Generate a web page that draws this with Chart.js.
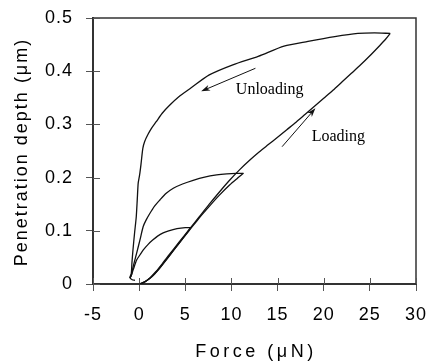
<!DOCTYPE html>
<html lang="en">
<head>
    <meta charset="UTF-8">
    <title>Penetration depth vs force</title>
    <script src="https://cdn.jsdelivr.net/npm/chart.js"></script>
    <style>
        body {
            margin: 0;
            background: #fff;
        }
        #wrap {
            width: 428px;
            height: 364px;
        }
    </style>
</head>
<body>
    <div id="wrap"><canvas id="chart"></canvas></div>

    <script>
        // tick values
        var xTicks = [-5, 0, 5, 10, 15, 20, 25, 30];
        var yTicks = [0, 0.1, 0.2, 0.3, 0.4, 0.5];

        // loading curves (three cycles, same path)
        var load1X = [0.1, 0.7, 1.4, 2.2, 3.2, 4.3, 5.0, 5.6];
        var load1Y = [0, 0.005, 0.014, 0.029, 0.051, 0.076, 0.092, 0.106];

        var load2X = [0.15, 0.8, 1.5, 2.3, 3.3, 4.3, 5.4, 6.5, 7.6, 8.7, 9.8, 10.6, 11.3];
        var load2Y = [0, 0.006, 0.016, 0.032, 0.054, 0.076, 0.100, 0.124, 0.146, 0.167, 0.186, 0.198, 0.208];

        var load3X = [0.05, 0.6, 1.2, 1.8, 2.5, 3.3, 4.3, 5.4, 6.5, 7.6, 8.7, 9.8, 10.9, 12.0, 13.0, 14.0, 15.0,
                      16.0, 17.0, 18.0, 19.0, 20.0, 21.0, 22.0, 23.0, 24.0, 25.0, 26.0, 26.7, 27.2];
        var load3Y = [0, 0.004, 0.012, 0.023, 0.038, 0.056, 0.078, 0.102, 0.126, 0.150, 0.173, 0.195, 0.215, 0.233, 0.248, 0.262, 0.276,
                      0.290, 0.304, 0.319, 0.334, 0.349, 0.364, 0.380, 0.396, 0.412, 0.429, 0.447, 0.460, 0.471];

        // unloading curves
        var unload1X = [5.6, 5.0, 4.1, 3.2, 2.6, 2.0, 1.5, 1.0, 0.45, 0.1, -0.27, -0.64, -0.85, -1.0];
        var unload1Y = [0.106, 0.106, 0.104, 0.100, 0.096, 0.090, 0.083, 0.075, 0.064, 0.055, 0.045, 0.027, 0.016, 0.011];

        var unload2X = [11.3, 10.5, 9.5, 8.4, 7.1, 5.85, 4.7, 3.7, 2.9, 2.25, 1.65, 1.17, 0.75, 0.44, 0.09, -0.27, -0.64, -0.85, -1.0];
        var unload2Y = [0.208, 0.208, 0.207, 0.205, 0.201, 0.195, 0.188, 0.180, 0.170, 0.158, 0.146, 0.133, 0.120, 0.108, 0.083, 0.058, 0.033, 0.016, 0.012];

        var unload3X = [27.2, 25.5, 23.7, 21.2, 18.3, 15.7, 12.9, 10.15, 7.6, 5.5, 4.3, 3.3, 2.5, 1.85, 1.35, 0.95, 0.6, 0.4,
                        0.2, 0.05, -0.1, -0.2, -0.31, -0.5, -0.67, -0.78, -0.85, -1.0, -0.75, -0.45];
        var unload3Y = [0.471, 0.472, 0.471, 0.465, 0.456, 0.447, 0.428, 0.412, 0.393, 0.367, 0.352, 0.336, 0.321, 0.305, 0.293, 0.281, 0.268, 0.255,
                        0.225, 0.205, 0.190, 0.160, 0.127, 0.095, 0.064, 0.040, 0.020, 0.012, 0.008, 0.007];

        // annotations (data coordinates)
        var noteText = ['Unloading', 'Loading'];
        var noteX = [10.48, 18.70];
        var noteY = [0.3566, 0.2688];
        var arrowFromX = [12.60, 15.49];
        var arrowFromY = [0.4055, 0.2581];
        var arrowToX = [6.72, 19.10];
        var arrowToY = [0.3622, 0.3303];

        function toPoints(xs, ys) {
            return xs.map(function (x, i) { return { x: x, y: ys[i] }; });
        }

        function curve(xs, ys) {
            return {
                data: toPoints(xs, ys),
                borderColor: '#111',
                borderWidth: 1.3,
                pointRadius: 0,
                tension: 0.25,
                fill: false
            };
        }

        var sansFont = '"Liberation Sans", Arial, sans-serif';

        // letter spacing for tick labels, plus titles, frame, inner ticks, notes
        var decorations = {
            id: 'decorations',
            beforeDraw: function (chart) {
                chart.ctx.letterSpacing = '1px';
            },
            beforeDatasetsDraw: function (chart) {
                var ctx = chart.ctx;
                var a = chart.chartArea;
                var xs = chart.scales.x, ys = chart.scales.y;
                ctx.letterSpacing = '0px';
                ctx.save();
                // frame top + right
                ctx.strokeStyle = '#333';
                ctx.lineWidth = 1.5;
                ctx.beginPath();
                ctx.moveTo(a.left, a.top);
                ctx.lineTo(a.right, a.top);
                ctx.lineTo(a.right, a.bottom);
                ctx.stroke();
                // inner tick stubs
                ctx.strokeStyle = '#555';
                ctx.lineWidth = 1;
                ctx.beginPath();
                xTicks.forEach(function (v) {
                    var p = Math.round(xs.getPixelForValue(v)) + 0.5;
                    ctx.moveTo(p, a.bottom);
                    ctx.lineTo(p, a.bottom - 6);
                });
                yTicks.forEach(function (v) {
                    var p = Math.round(ys.getPixelForValue(v)) + 0.5;
                    ctx.moveTo(a.left, p);
                    ctx.lineTo(a.left + 7, p);
                });
                ctx.stroke();
                ctx.restore();
            },
            afterDraw: function (chart) {
                var ctx = chart.ctx;
                var xs = chart.scales.x, ys = chart.scales.y;
                ctx.save();
                // axis titles
                ctx.fillStyle = '#000';
                ctx.font = '18px ' + sansFont;
                ctx.textAlign = 'center';
                ctx.textBaseline = 'alphabetic';
                ctx.letterSpacing = '3.5px';
                ctx.fillText('Force (\u03bcN)', 256, 357);
                ctx.save();
                ctx.translate(27, 152);
                ctx.rotate(-Math.PI / 2);
                ctx.letterSpacing = '2px';
                ctx.fillText('Penetration depth (\u03bcm)', 0, 0);
                ctx.restore();

                // notes
                ctx.letterSpacing = '0px';
                ctx.font = '16px "Liberation Serif", "Times New Roman", serif';
                ctx.textAlign = 'left';
                noteText.forEach(function (t, i) {
                    ctx.fillText(t, xs.getPixelForValue(noteX[i]), ys.getPixelForValue(noteY[i]));
                });

                // arrows
                ctx.strokeStyle = '#111';
                ctx.fillStyle = '#111';
                ctx.lineWidth = 1;
                arrowFromX.forEach(function (fx, i) {
                    var x0 = xs.getPixelForValue(fx), y0 = ys.getPixelForValue(arrowFromY[i]);
                    var x1 = xs.getPixelForValue(arrowToX[i]), y1 = ys.getPixelForValue(arrowToY[i]);
                    var ang = Math.atan2(y1 - y0, x1 - x0);
                    var len = 9, half = 3;
                    ctx.beginPath();
                    ctx.moveTo(x0, y0);
                    ctx.lineTo(x1 - Math.cos(ang) * 4, y1 - Math.sin(ang) * 4);
                    ctx.stroke();
                    ctx.beginPath();
                    ctx.moveTo(x1, y1);
                    ctx.lineTo(x1 - Math.cos(ang) * len - Math.sin(ang) * half, y1 - Math.sin(ang) * len + Math.cos(ang) * half);
                    ctx.lineTo(x1 - Math.cos(ang) * len * 0.7, y1 - Math.sin(ang) * len * 0.7);
                    ctx.lineTo(x1 - Math.cos(ang) * len + Math.sin(ang) * half, y1 - Math.sin(ang) * len - Math.cos(ang) * half);
                    ctx.closePath();
                    ctx.fill();
                });
                ctx.restore();
            }
        };

        new Chart(document.getElementById('chart'), {
            type: 'line',
            data: {
                datasets: [
                    curve(load1X, load1Y),
                    curve(load2X, load2Y),
                    curve(load3X, load3Y),
                    curve(unload1X, unload1Y),
                    curve(unload2X, unload2Y),
                    curve(unload3X, unload3Y)
                ]
            },
            options: {
                responsive: true,
                maintainAspectRatio: false,
                animation: false,
                layout: { padding: { top: 18, right: 12, left: 0, bottom: 0 } },
                plugins: {
                    legend: { display: false },
                    tooltip: { enabled: false }
                },
                scales: {
                    x: {
                        type: 'linear',
                        min: -5,
                        max: 30,
                        afterBuildTicks: function (s) { s.ticks = xTicks.map(function (v) { return { value: v }; }); },
                        afterFit: function (s) {
                            s.height = 80;
                            s.paddingLeft = 0;
                            s.paddingRight = 0;
                        },
                        ticks: {
                            color: '#000',
                            padding: 13,
                            maxRotation: 0,
                            font: { family: sansFont, size: 18 }
                        },
                        grid: { drawOnChartArea: false, tickLength: 7, tickColor: '#555' },
                        border: { color: '#333', width: 2 }
                    },
                    y: {
                        min: 0,
                        max: 0.5,
                        afterBuildTicks: function (s) { s.ticks = yTicks.map(function (v) { return { value: v }; }); },
                        afterFit: function (s) {
                            s.width = 93;
                            s.paddingTop = 0;
                            s.paddingBottom = 0;
                        },
                        ticks: {
                            color: '#000',
                            padding: 13,
                            font: { family: sansFont, size: 18 },
                            callback: function (v) { return String(v); }
                        },
                        grid: { drawOnChartArea: false, tickLength: 7, tickColor: '#555' },
                        border: { color: '#333', width: 2 }
                    }
                }
            },
            plugins: [decorations]
        });
    </script>
</body>
</html>
